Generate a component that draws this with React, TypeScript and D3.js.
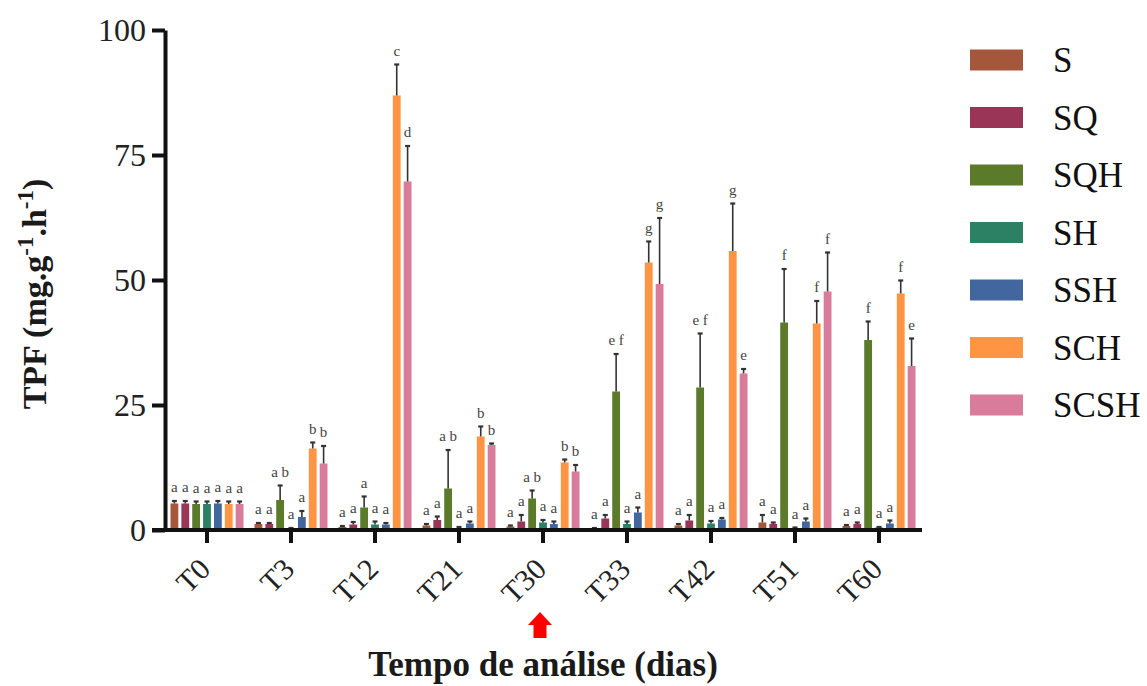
import React, { useEffect, useRef } from "react";
import * as d3 from "d3";

// sampling days
const categories = ["T0", "T3", "T12", "T21", "T30", "T33", "T42", "T51", "T60"];
const seriesNames = ["S", "SQ", "SQH", "SH", "SSH", "SCH", "SCSH"];
const seriesColors = ["#A5573B", "#9A3558", "#5B7A2A", "#2C8064", "#42679E", "#FF9442", "#D97B9B"];

// mean TPF per series
const valS = [5.3, 1.2, 0.6, 0.9, 0.7, 0.3, 0.9, 1.5, 0.8];
const valSQ = [5.3, 1.2, 1.1, 2.0, 1.7, 2.3, 1.9, 1.2, 1.2];
const valSQH = [5.2, 6.0, 4.5, 8.3, 6.3, 27.7, 28.5, 41.5, 38.0];
const valSH = [5.2, 0.3, 1.1, 0.4, 1.5, 1.2, 1.3, 0.4, 0.5];
const valSSH = [5.3, 2.6, 1.1, 1.3, 1.2, 3.5, 2.1, 1.7, 1.3];
const valSCH = [5.2, 16.3, 86.9, 18.7, 13.5, 53.5, 55.8, 41.3, 47.3];
const valSCSH = [5.2, 13.3, 69.7, 17.0, 11.7, 49.2, 31.3, 47.7, 32.8];

// error (upper) per series
const errS = [0.5, 0.2, 0.2, 0.3, 0.2, 0.1, 0.3, 1.5, 0.2];
const errSQ = [0.5, 0.2, 0.5, 0.7, 1.3, 0.7, 1.1, 0.3, 0.3];
const errSQH = [0.5, 2.9, 2.2, 7.7, 1.6, 7.5, 10.8, 10.7, 3.7];
const errSH = [0.5, 0.1, 0.6, 0.2, 0.5, 0.5, 0.5, 0.1, 0.1];
const errSSH = [0.5, 1.2, 0.3, 0.4, 0.5, 1.0, 0.3, 0.6, 0.6];
const errSCH = [0.5, 1.2, 6.2, 2.0, 0.6, 4.2, 9.5, 4.5, 2.6];
const errSCSH = [0.5, 3.5, 7.1, 0.3, 1.3, 13.2, 0.9, 7.8, 5.5];

// significance letters
const letS = ["a", "a", "a", "a", "a", "a", "a", "a", "a"];
const letSQ = ["a", "a", "a", "a", "a", "a", "a", "a", "a"];
const letSQH = ["a", "ab", "a", "ab", "ab", "ef", "ef", "f", "f"];
const letSH = ["a", "a", "a", "a", "a", "a", "a", "a", "a"];
const letSSH = ["a", "a", "a", "a", "a", "a", "a", "a", "a"];
const letSCH = ["a", "b", "c", "b", "b", "g", "g", "f", "f"];
const letSCSH = ["a", "b", "d", "b", "b", "g", "e", "f", "e"];

const yTicks = [0, 25, 50, 75, 100];
const markedDay = "T30";

const values = [valS, valSQ, valSQH, valSH, valSSH, valSCH, valSCSH];
const errors = [errS, errSQ, errSQH, errSH, errSSH, errSCH, errSCSH];
const letters = [letS, letSQ, letSQH, letSH, letSSH, letSCH, letSCSH];

const font = "'Liberation Serif', 'Times New Roman', serif";

const App = () => {
  const ref = useRef(null);
  const width = 1147;
  const height = 686;
  const margin = { top: 30, bottom: 156, left: 165, right: 226 };

  useEffect(() => {
    const svg = d3.select(ref.current);
    svg.selectAll("*").remove();

    const y = d3.scaleLinear().domain([0, 100]).range([height - margin.bottom, margin.top]);
    const x0 = d3.scaleBand().domain(categories).range([margin.left, width - margin.right]);
    const x1 = d3
      .scaleBand()
      .domain(seriesNames)
      .range([5.5, x0.bandwidth() - 5.5])
      .paddingInner(0.28);

    const rows = [];
    seriesNames.forEach((name, i) => {
      categories.forEach((cat, j) => {
        rows.push({
          name,
          cat,
          color: seriesColors[i],
          v: values[i][j],
          e: errors[i][j],
          letter: letters[i][j],
        });
      });
    });

    const cx = (d) => x0(d.cat) + x1(d.name) + x1.bandwidth() / 2;

    // bars
    svg
      .append("g")
      .selectAll("rect")
      .data(rows)
      .enter()
      .append("rect")
      .attr("x", (d) => x0(d.cat) + x1(d.name))
      .attr("y", (d) => y(d.v))
      .attr("width", x1.bandwidth())
      .attr("height", (d) => y(0) - y(d.v))
      .attr("fill", (d) => d.color);

    // error bars
    const eg = svg.append("g").attr("stroke", "#333");
    eg.selectAll(".stem")
      .data(rows)
      .enter()
      .append("line")
      .attr("x1", cx)
      .attr("x2", cx)
      .attr("y1", (d) => y(d.v))
      .attr("y2", (d) => y(d.v + d.e))
      .attr("stroke-width", 1.6);
    eg.selectAll(".cap")
      .data(rows)
      .enter()
      .append("line")
      .attr("x1", (d) => cx(d) - 2.5)
      .attr("x2", (d) => cx(d) + 2.5)
      .attr("y1", (d) => y(d.v + d.e))
      .attr("y2", (d) => y(d.v + d.e))
      .attr("stroke-width", 2.2);

    // letters
    svg
      .append("g")
      .selectAll("text")
      .data(rows)
      .enter()
      .append("text")
      .attr("x", cx)
      .attr("y", (d) => y(d.v + d.e) - 9)
      .attr("text-anchor", "middle")
      .attr("font-family", font)
      .attr("font-size", 15)
      .attr("fill", "#444")
      .text((d) => d.letter.split("").join(" "));

    // y axis
    const yAxis = svg
      .append("g")
      .attr("transform", `translate(${margin.left},0)`)
      .call(d3.axisLeft(y).tickValues(yTicks).tickSize(13).tickSizeOuter(0).tickPadding(6));
    yAxis.attr("font-family", font);
    yAxis.select(".domain").attr("stroke", "#111").attr("stroke-width", 4);
    yAxis.selectAll(".tick line").attr("stroke", "#111").attr("stroke-width", 4);
    yAxis
      .selectAll(".tick text")
      .attr("font-family", font)
      .attr("font-size", 32)
      .attr("fill", "#222");

    // x axis
    const xAxis = svg
      .append("g")
      .attr("transform", `translate(0,${y(0)})`)
      .call(d3.axisBottom(x0).tickSize(13).tickSizeOuter(0));
    xAxis.attr("font-family", font);
    xAxis.select(".domain").remove();
    xAxis
      .append("line")
      .attr("x1", margin.left - 13)
      .attr("x2", width - margin.right + 1)
      .attr("stroke", "#111")
      .attr("stroke-width", 4);
    xAxis.selectAll(".tick line").attr("stroke", "#111").attr("stroke-width", 4);
    xAxis
      .selectAll(".tick text")
      .attr("y", 0)
      .attr("dy", 0)
      .attr("transform", "translate(5,41) rotate(-45)")
      .attr("text-anchor", "end")
      .attr("font-family", font)
      .attr("font-size", 30)
      .attr("fill", "#222");

    // red arrow under the marked day
    const ax = x0(markedDay) + x0.bandwidth() / 2 - 3;
    const at = 612;
    svg
      .append("path")
      .attr(
        "d",
        `M${ax},${at} L${ax + 12},${at + 13} L${ax + 6.5},${at + 13} L${ax + 6.5},${at + 26} L${ax - 6.5},${at + 26} L${ax - 6.5},${at + 13} L${ax - 12},${at + 13} Z`
      )
      .attr("fill", "#FF0000");

    // axis titles
    svg
      .append("text")
      .attr("x", x0(markedDay) + x0.bandwidth() / 2)
      .attr("y", 676)
      .attr("text-anchor", "middle")
      .attr("font-family", font)
      .attr("font-weight", "bold")
      .attr("font-size", 35)
      .attr("fill", "#1a1a1a")
      .text("Tempo de análise (dias)");

    const yt = svg
      .append("text")
      .attr("transform", `translate(46,${(y(0) + y(100)) / 2 + 14}) rotate(-90)`)
      .attr("text-anchor", "middle")
      .attr("font-family", font)
      .attr("font-weight", "bold")
      .attr("font-size", 34)
      .attr("fill", "#1a1a1a");
    yt.append("tspan").text("TPF (mg.g");
    yt.append("tspan").attr("dy", -13).attr("font-size", 23).text("-1");
    yt.append("tspan").attr("dy", 13).text(".h");
    yt.append("tspan").attr("dy", -13).attr("font-size", 23).text("-1");
    yt.append("tspan").attr("dy", 13).text(")");

    // legend
    const ly = d3.scaleLinear().domain([0, seriesNames.length - 1]).range([60, 405]);
    const legend = svg
      .append("g")
      .selectAll("g")
      .data(seriesNames)
      .enter()
      .append("g")
      .attr("transform", (d, i) => `translate(970,${ly(i)})`);
    legend
      .append("rect")
      .attr("x", 0)
      .attr("y", -10.5)
      .attr("width", 53)
      .attr("height", 21)
      .attr("fill", (d, i) => seriesColors[i]);
    legend
      .append("text")
      .attr("x", 83)
      .attr("y", 12)
      .attr("font-family", font)
      .attr("font-size", 35)
      .attr("fill", "#111")
      .text((d) => d);
  }, []);

  return (
    <svg
      ref={ref}
      width={width}
      height={height}
      style={{ position: "absolute", left: 0, top: 0, background: "#fff" }}
    ></svg>
  );
};

export default App;
